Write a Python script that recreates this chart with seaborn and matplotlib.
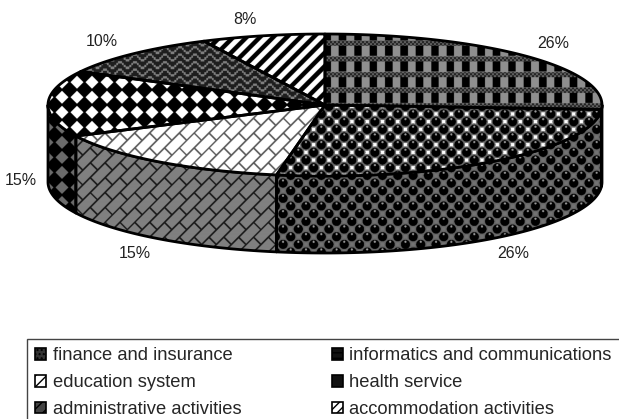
import numpy as np
import matplotlib
matplotlib.use('Agg')
import matplotlib.pyplot as plt
from matplotlib.patches import Polygon, Patch
import seaborn as sns

# data
categories = ['finance and insurance', 'informatics and communications', 'education system',
              'health service', 'administrative activities', 'accommodation activities']
shares = [26, 26.8, 15, 15, 10, 7.2]
share_labels = ['26%', '26%', '15%', '15%', '10%', '8%']
label_pos = [(553, 44), (513, 253), (135, 253), (21, 180), (102, 41), (245, 20)]

# pie geometry in pixels
cx, cy, rx, ry, depth = 325, 105, 277, 71, 77
W, H = 619, 419
SS = 3

sns.set_theme(style='white')
plt.rcParams['font.family'] = ['Liberation Sans', 'DejaVu Sans']

yy, xx = np.mgrid[0:H * SS, 0:W * SS]
xx = (xx + 0.5) / SS
yy = (yy + 0.5) / SS


def finance(bg):
    img = np.full(xx.shape, bg)
    px, py = 15.4, 15.6
    img[((xx % px) < 7.5) & ((yy % py) < 10)] = 0.0
    band = (yy % py) >= 10.5
    img[band] = bg * 0.7
    img[band & (((xx // 2 + yy // 2) % 2) == 0)] = 0.12
    return img


def spheres(bg):
    a = 15.3
    u = (xx + yy) / a
    v = (xx - yy) / a
    du = u - np.floor(u) - 0.5
    dv = v - np.floor(v) - 0.5
    dx = (du + dv) * a / 2
    dy = (du - dv) * a / 2
    d = np.hypot(dx, dy)
    img = np.full(xx.shape, bg)
    img[d < 6.0] = 0.4
    img[d < 4.6] = 0.0
    img[np.hypot(dx, dy + 2.6) < 1.1] = 0.6
    return img


def bricks(bg, line):
    s, ln = 10.5, 21.0
    u = (xx + yy) / np.sqrt(2)
    v = (xx - yy) / np.sqrt(2)
    row = np.floor(u / s)
    img = np.full(xx.shape, bg)
    img[(u % s) < 1.6] = line
    img[((v + row * ln / 2) % ln) < 1.6] = line
    return img


def diamonds(bg):
    p = 15.0
    u = (xx + yy - 2.5) / p
    v = (xx - yy + 13.5) / p
    fu = u - np.floor(u)
    fv = v - np.floor(v)
    even = ((np.floor(u) + np.floor(v)) % 2) == 0
    img = np.full(xx.shape, 0.0)
    img[even & (fu > 0.07) & (fu < 0.93) & (fv > 0.07) & (fv < 0.93)] = bg
    return img


def zigzag():
    p = 15.0
    tri = np.abs((xx % p) / p - 0.5) * 2
    tri = np.floor(tri * 4) / 4
    w = (yy + tri * 7.5) % 7.5
    img = np.full(xx.shape, 0.12)
    img[w < 2.4] = 0.5
    return img


def stripes():
    img = np.full(xx.shape, 1.0)
    img[((xx + yy) % 13.4) < 6.4] = 0.0
    return img


top_tex = [finance(0.56), spheres(1.0), bricks(1.0, 0.35), diamonds(1.0), zigzag(), stripes()]
side_tex = [finance(0.4), spheres(0.45), bricks(0.5, 0.1), diamonds(0.42), zigzag(), stripes()]

fig = plt.figure(figsize=(W / 100, H / 100), dpi=100)
ax = fig.add_axes([0, 0, 1, 1])


def rim(a, b, yc):
    t = np.radians(np.linspace(a, b, 120))
    return np.column_stack([cx + rx * np.sin(t), yc - ry * np.cos(t)])


def fill(points, tex, z):
    poly = Polygon(points, closed=True, facecolor='none', edgecolor='black',
                   linewidth=2, joinstyle='round', zorder=z + 0.5)
    ax.add_patch(poly)
    im = ax.imshow(tex, cmap='gray', vmin=0, vmax=1, extent=(0, W, H, 0), aspect='auto',
                   interpolation='hanning', zorder=z)
    im.set_clip_path(poly)


edges = np.concatenate([[0], np.cumsum(shares)]) * 3.6

# outer wall, only the part that faces the viewer
for i in range(len(shares)):
    a = max(edges[i], 90)
    b = min(edges[i + 1], 270)
    if a < b:
        front = rim(a, b, cy)
        pts = np.vstack([front, front[::-1] + [0, depth]])
        fill(pts, side_tex[i], 2)

# top face
for i in range(len(shares)):
    pts = np.vstack([[cx, cy], rim(edges[i], edges[i + 1], cy)])
    fill(pts, top_tex[i], 3)

for s, (lx, ly) in zip(share_labels, label_pos):
    ax.text(lx, ly, s, ha='center', va='center', fontsize=11.5, color='#222222')

key_styles = [('#333333', '....'), ('#111111', '---'), ('white', '///'),
              ('#111111', ''), ('#444444', '///'), ('white', '////')]
handles = [Patch(facecolor=c, edgecolor='black', hatch=h, linewidth=1.2, label=n)
           for (c, h), n in zip(key_styles, categories)]
order = [0, 2, 4, 1, 3, 5]
leg = ax.legend([handles[i] for i in order], [categories[i] for i in order], ncol=2,
                loc='upper left', bbox_to_anchor=(27 / W, 1 - 339 / H), fontsize=13.2,
                frameon=True, fancybox=False, framealpha=1, edgecolor='#444444',
                handlelength=0.6, handleheight=0.6, handletextpad=0.35,
                labelspacing=0.54, columnspacing=4.95, borderpad=0.45, borderaxespad=0)
leg.get_frame().set_linewidth(1.0)

ax.set_xlim(0, W)
ax.set_ylim(H, 0)
ax.axis('off')
fig.savefig('out.png', dpi=100)
